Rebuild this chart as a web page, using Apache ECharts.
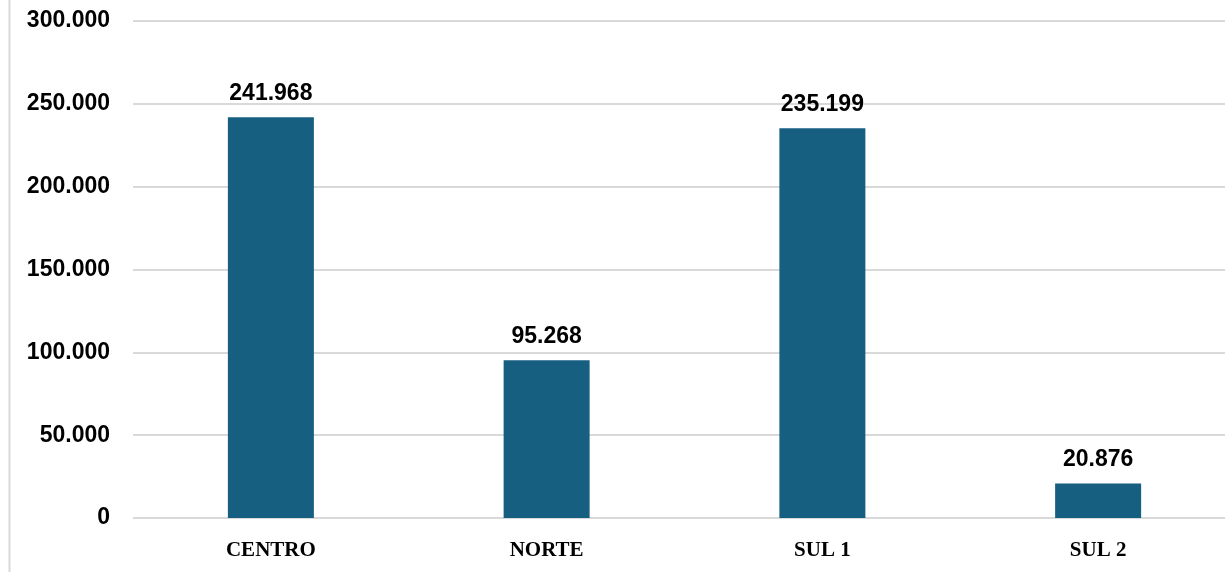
<!DOCTYPE html>
<html><head><meta charset="utf-8">
<script src="https://cdn.jsdelivr.net/npm/echarts@6/dist/echarts.min.js"></script>
<style>html,body{margin:0;padding:0;background:#fff}#c{width:1225px;height:572px}</style>
</head><body><div id="c"></div>
<script>
var categories = ['CENTRO', 'NORTE', 'SUL 1', 'SUL 2'];
var values = [241968, 95268, 235199, 20876];
var yTicks = [0, 50000, 100000, 150000, 200000, 250000, 300000];

function fmt(v) { return String(Math.round(v)).replace(/\B(?=(\d{3})+(?!\d))/g, '.'); }

var chart = echarts.init(document.getElementById('c'));
chart.setOption({
  animation: false,
  graphic: [{ type: 'line', shape: { x1: 9.5, y1: 0, x2: 9.5, y2: 572 }, style: { stroke: '#d9d9d9', lineWidth: 2 } }],
  grid: { left: 133, width: 1103, top: 21, bottom: 54, outerBoundsMode: 'none', containLabel: false },
  xAxis: {
    type: 'category', data: categories,
    axisLine: { show: false }, axisTick: { show: false },
    axisLabel: { fontFamily: 'Liberation Serif', fontWeight: 'bold', fontSize: 21, color: '#000', margin: 22 }
  },
  yAxis: {
    type: 'value', min: yTicks[0], max: yTicks[yTicks.length - 1], interval: 50000,
    axisLabel: { formatter: fmt, fontFamily: 'Liberation Sans', fontWeight: 'bold', fontSize: 23, color: '#000', margin: 23 },
    splitLine: { lineStyle: { color: '#d9d9d9', width: 2 } },
    axisLine: { show: false }, axisTick: { show: false }
  },
  series: [{
    type: 'bar', data: values, barWidth: 86,
    itemStyle: { color: '#175f80' },
    label: { show: true, position: 'top', distance: 12, formatter: function (p) { return fmt(p.value); },
      fontFamily: 'Liberation Sans', fontWeight: 'bold', fontSize: 23, color: '#000' }
  }]
});
</script></body></html>
